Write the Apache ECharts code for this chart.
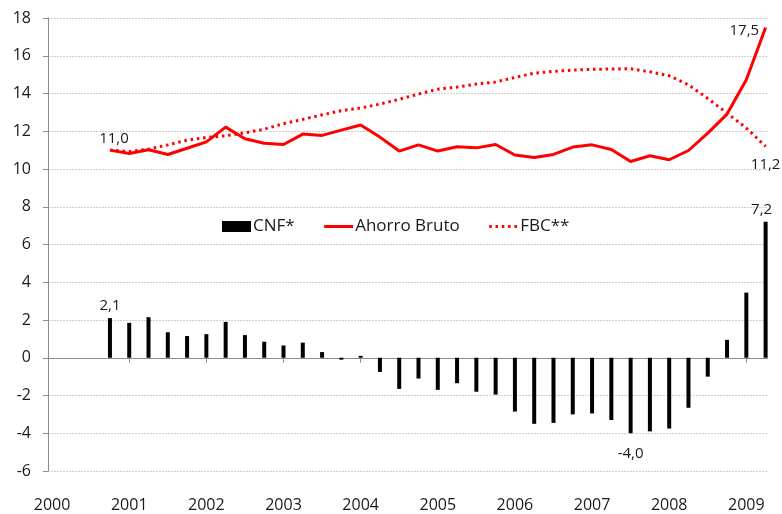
<!DOCTYPE html>
<html><head><meta charset="utf-8">
<script src="https://cdn.jsdelivr.net/npm/echarts@6/dist/echarts.min.js"></script>
<style>html,body{margin:0;padding:0;background:#fff}#c{width:782px;height:514px}</style>
</head><body><div id="c"></div>
<script>
// Quarterly periods (year + quarter)
const periods = ['2000T3','2000T4',
 '2001T1','2001T2','2001T3','2001T4',
 '2002T1','2002T2','2002T3','2002T4',
 '2003T1','2003T2','2003T3','2003T4',
 '2004T1','2004T2','2004T3','2004T4',
 '2005T1','2005T2','2005T3','2005T4',
 '2006T1','2006T2','2006T3','2006T4',
 '2007T1','2007T2','2007T3','2007T4',
 '2008T1','2008T2','2008T3','2008T4',
 '2009T1'];
const cnf = [2.1,1.85,2.15,1.35,1.15,1.25,1.9,1.2,0.85,0.65,0.8,0.3,-0.1,0.1,-0.75,-1.65,-1.1,-1.7,-1.35,-1.8,-1.95,-2.85,-3.5,-3.45,-3.0,-2.95,-3.3,-4.0,-3.9,-3.75,-2.65,-1.0,0.95,3.45,7.2];
const ahorro = [11.0,10.82,11.02,10.77,11.1,11.44,12.22,11.6,11.36,11.3,11.85,11.78,12.06,12.33,11.69,10.95,11.28,10.95,11.18,11.12,11.3,10.74,10.61,10.77,11.16,11.28,11.03,10.4,10.7,10.49,10.98,11.9,12.91,14.73,17.5];
const fbc = [11.0,10.93,11.05,11.28,11.53,11.67,11.76,11.92,12.11,12.4,12.63,12.87,13.09,13.23,13.44,13.69,13.97,14.23,14.34,14.5,14.61,14.85,15.08,15.17,15.24,15.28,15.3,15.31,15.15,14.94,14.46,13.74,12.96,12.17,11.2];
const years = [2000,2001,2002,2003,2004,2005,2006,2007,2008,2009];
const yearTicks = [2001,2002,2003,2004,2005,2006,2007,2008,2009];
const seriesNames = ['CNF*','Ahorro Bruto','FBC**'];

const FONT = '"Open Sans", sans-serif';
const TXT = '#1a1a1a';
const RED = '#ff0000';
const fmt = v => v.toFixed(1).replace('.', ',');
const toX = p => +p.slice(0,4) + (+p.slice(5))/4;

function build(values, labelIdx, labelOpts) {
  return values.map((v,i) => {
    const item = {value: [toX(periods[i]), v]};
    const j = labelIdx.indexOf(i);
    if (j >= 0) item.label = Object.assign({show:true, formatter: () => fmt(v), color: TXT, fontFamily: FONT, fontSize: 15}, labelOpts[j]);
    return item;
  });
}

const last = periods.length - 1;
const hidden = {color: 'rgba(0,0,0,0)', borderColor: 'rgba(0,0,0,0)', borderWidth: 0};
const chart = echarts.init(document.getElementById('c'));
chart.setOption({
  animation: false,
  backgroundColor: '#fff',
  grid: {left: 48, right: 14.3, top: 18, bottom: 43},
  legend: {
    left: 222, top: 218, padding: 0,
    itemWidth: 29, itemHeight: 11, itemGap: 28,
    textStyle: {fontFamily: FONT, fontSize: 17, color: TXT, padding: [0,0,0,-3]},
    data: [{name: seriesNames[0], icon: 'rect'},
           {name: seriesNames[1], itemStyle: hidden, lineStyle: {width: 3}},
           {name: seriesNames[2], itemStyle: hidden, lineStyle: {width: 3}}]
  },
  xAxis: [{
    type: 'value', min: 1999.947, max: 2009.277, position: 'bottom',
    axisLine: {show: true, onZero: true, lineStyle: {color: '#8c8c8c', width: 1}},
    axisTick: {show: true, length: 5, customValues: yearTicks, lineStyle: {color: '#8c8c8c'}},
    axisLabel: {show: false},
    splitLine: {show: false}
  }, {
    type: 'value', min: 1999.947, max: 2009.277, position: 'bottom',
    axisLine: {show: false, onZero: false},
    axisTick: {show: false},
    axisLabel: {show: true, customValues: years, formatter: v => String(Math.round(v)), margin: 26,
      fontFamily: FONT, fontSize: 16, color: TXT},
    splitLine: {show: false}
  }],
  yAxis: {
    type: 'value', min: -6, max: 18, interval: 2,
    axisLine: {show: true, lineStyle: {color: '#8c8c8c', width: 1}},
    axisTick: {show: true, length: 5, lineStyle: {color: '#8c8c8c'}},
    axisLabel: {margin: 17, fontFamily: FONT, fontSize: 16, color: TXT},
    splitLine: {show: true, lineStyle: {color: '#cfcfcf', type: [2,1], width: 1}}
  },
  series: [{
    name: seriesNames[0], type: 'bar', xAxisIndex: 0, barWidth: 4,
    itemStyle: {color: '#000'},
    data: build(cnf, [0, 27, last], [{position:'top', distance:5}, {position:'bottom', distance:13}, {position:'top', distance:5, offset:[-4,0]}])
  }, {
    name: seriesNames[1], type: 'line', xAxisIndex: 0, symbol: 'circle', symbolSize: 1, showSymbol: true,
    lineStyle: {color: RED, width: 3}, itemStyle: hidden, emphasis: {disabled: true},
    data: build(ahorro, [0, last], [{position:'top', distance:3, offset:[4,0]}, {position:'left', distance:6, offset:[0,3]}])
  }, {
    name: seriesNames[2], type: 'line', xAxisIndex: 0, symbol: 'circle', symbolSize: 1, showSymbol: true,
    lineStyle: {color: RED, width: 3, type: [2.5, 3.8]}, itemStyle: hidden, emphasis: {disabled: true},
    data: build(fbc, [last], [{position:'bottom', distance:10}])
  }]
});
</script>
</body></html>
